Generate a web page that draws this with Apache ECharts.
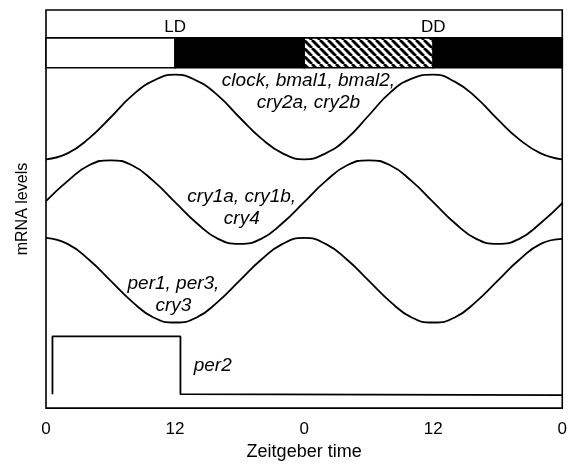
<!DOCTYPE html>
<html><head><meta charset="utf-8">
<script src="https://cdn.jsdelivr.net/npm/echarts@6/dist/echarts.min.js"></script>
<style>html,body{margin:0;padding:0;background:#fff}#c{width:570px;height:466px}</style>
</head><body><div id="c"></div>
<script>
// ---- data ----
const hours = [0,2,4,6,8,10,12,14,16,18,20,22,24,26,28,30,32,34,36,38,40,42,44,46,48];
const clockGroup = [25.0,25.6,27.1,29.2,31.4,32.9,33.5,32.9,31.4,29.2,27.1,25.6,25.0,25.6,27.1,29.4,31.7,33.1,33.5,32.8,31.2,29.0,27.0,25.6,25.0];
const cry1Group  = [20.8,22.8,24.4,24.9,24.4,22.8,20.7,18.6,17.0,16.5,17.0,18.6,20.7,22.8,24.4,24.9,24.4,22.8,20.7,18.6,17.0,16.5,17.0,18.6,20.6];
const per1Group  = [17.1,16.5,14.9,12.8,10.7,9.1,8.6,9.1,10.7,12.8,14.9,16.5,17.1,16.5,14.9,12.8,10.7,9.1,8.6,9.1,10.7,12.8,14.9,16.5,17.0];
const per2Times  = [0.6,0.6,12.5,12.5,48];
const per2Levels = [1.4,7.2,7.2,1.4,1.3];
const phaseStarts = [0,12,24,36];
const phaseEnds   = [12,24,36,48];
const phaseKinds  = ['light','dark','subjective day','dark'];
const conditionLabels = ['LD','DD'];
const conditionTimes  = [12,36];
const geneLabels = ['clock, bmal1, bmal2,\ncry2a, cry2b','cry1a, cry1b,\ncry4','per1, per3,\ncry3','per2'];
const geneLabelTimes  = [24.4,18.2,11.85,15.5];
const geneLabelLevels = [31.75,20.15,11.4,4.25];
const tickValues = [0,12,24,36,48];
const tickLabels = ['0','12','0','12','0'];

// ---- layout constants ----
const BAR_TOP = 37.2, BAR_BOTTOM = 34.2, LABEL_ROW = 38.3;

const pat = document.createElement('canvas');
pat.width = 8; pat.height = 8;
(function(){
  const g = pat.getContext('2d');
  g.fillStyle = '#fff'; g.fillRect(0,0,8,8);
  g.strokeStyle = '#000'; g.lineWidth = 2.8;
  for (const x of [-8,0,8]) { g.beginPath(); g.moveTo(x,0); g.lineTo(x+8,8); g.stroke(); }
})();

const chart = echarts.init(document.getElementById('c'), null, {renderer:'canvas'});
const FONT = 'Liberation Sans, Arial, Helvetica, sans-serif';
const line = (vals) => hours.map((h,i)=>[h, vals[i]]);
const curveStyle = {color:'#000', width:1.8};
const txt = {color:'#000', opacity:1, textBorderWidth:0, fontFamily:FONT};

chart.setOption({
  animation:false,
  grid:{left:46, right:5, top:10, bottom:55, show:true, borderColor:'#000', borderWidth:1.6, backgroundColor:'#fff'},
  xAxis:{type:'value', min:0, max:48, interval:12,
    axisLine:{show:false}, axisTick:{show:false}, splitLine:{show:false},
    axisLabel:{margin:13, color:'#000', fontSize:17, fontFamily:FONT,
      formatter:(v)=>tickLabels[tickValues.indexOf(v)]},
    name:'Zeitgeber time', nameLocation:'middle', nameGap:21,
    nameTextStyle:{color:'#000', fontSize:18, fontFamily:FONT}},
  yAxis:{type:'value', min:0, max:40,
    axisLine:{show:false}, axisTick:{show:false}, splitLine:{show:false}, axisLabel:{show:false},
    name:'mRNA levels', nameLocation:'middle', nameGap:15,
    nameTextStyle:{color:'#000', fontSize:16, fontFamily:FONT}},
  series:[
    {type:'custom', clip:false,
     data: phaseStarts.map((s,i)=>[s, phaseEnds[i]]),
     encode:{x:[0,1]},
     renderItem:(params, api)=>{
       const kind = phaseKinds[params.dataIndex];
       const a = api.coord([api.value(0), BAR_TOP]);
       const b = api.coord([api.value(1), BAR_BOTTOM]);
       const fill = kind==='light' ? '#fff' : kind==='dark' ? '#000' : {image:pat, repeat:'repeat'};
       return {type:'rect', shape:{x:a[0], y:a[1], width:b[0]-a[0], height:b[1]-a[1]},
               style:{fill:fill, stroke:'#000', lineWidth:1.6}};
     }},
    {type:'scatter', symbolSize:0, itemStyle:{opacity:1},
     data: conditionTimes.map((t,i)=>({name:conditionLabels[i], value:[t, LABEL_ROW]})),
     label:Object.assign({show:true, position:'inside', formatter:'{b}', fontSize:17}, txt)},
    {type:'line', data:line(clockGroup), smooth:true, symbol:'none', lineStyle:curveStyle},
    {type:'line', data:line(cry1Group), smooth:true, symbol:'none', lineStyle:curveStyle},
    {type:'line', data:line(per1Group), smooth:true, symbol:'none', lineStyle:curveStyle},
    {type:'line', data:per2Times.map((t,i)=>[t, per2Levels[i]]), symbol:'none', lineStyle:curveStyle},
    {type:'scatter', symbolSize:0, itemStyle:{opacity:1},
     data: geneLabels.map((n,i)=>({name:n, value:[geneLabelTimes[i], geneLabelLevels[i]]})),
     label:Object.assign({show:true, position:'inside', formatter:'{b}', fontSize:19, fontStyle:'italic',
       lineHeight:22, align:'center', verticalAlign:'middle'}, txt)}
  ]
});
</script></body></html>
